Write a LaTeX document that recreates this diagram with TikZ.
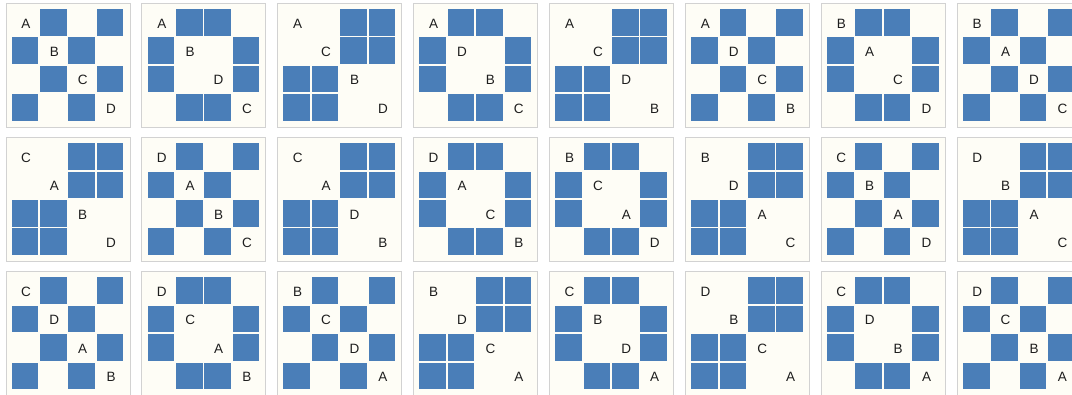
\documentclass[tikz,border=0pt]{standalone}
\usepackage{fontspec}
\setmainfont{Liberation Sans}
\definecolor{cellblue}{HTML}{4A7EB8}
\definecolor{panelbg}{HTML}{FEFDF6}
\definecolor{framegray}{HTML}{D2D2D2}
\definecolor{lettergray}{HTML}{1E1E1E}

% cell patterns (column/row)
\def\cellsX{1/0,3/0,0/1,2/1,1/2,3/2,0/3,2/3}
\def\cellsO{1/0,2/0,0/1,3/1,0/2,3/2,1/3,2/3}
\def\cellsZ{2/0,3/0,2/1,3/1,0/2,1/2,0/3,1/3}

\begin{document}
\begin{tikzpicture}[x=1pt,y=-1pt,
  letter/.style={text=lettergray, font=\fontsize{13.5}{15}\selectfont, inner sep=0pt}]

\useasboundingbox[fill=white] (0,0) rectangle (1072,395);

% Panels, row by row
\foreach \kind/\la/\lb/\lc/\ld [count=\n from 0] in {
  X/A/B/C/D, O/A/B/D/C, Z/A/C/B/D, O/A/D/B/C, Z/A/C/D/B, X/A/D/C/B, O/B/A/C/D, X/B/A/D/C,
  Z/C/A/B/D, X/D/A/B/C, Z/C/A/D/B, O/D/A/C/B, O/B/C/A/D, Z/B/D/A/C, X/C/B/A/D, Z/D/B/A/C,
  X/C/D/A/B, O/D/C/A/B, X/B/C/D/A, Z/B/D/C/A, O/C/B/D/A, Z/D/B/C/A, O/C/D/B/A, X/D/C/B/A} {
  \pgfmathtruncatemacro\col{mod(\n,8)}
  \pgfmathtruncatemacro\row{int(\n/8)}
  \begin{scope}[shift={(6+135.9*\col,3.5+134.2*\row)}]
    \fill[panelbg] (0,0) rectangle (124,124);
    \draw[framegray, line width=1pt] (0,0) rectangle (124,124);
    \edef\celllist{\csname cells\kind\endcsname}
    \foreach \cx/\cy in \celllist {
      \fill[cellblue] (5.6+28.4*\cx,5.6+28.4*\cy) rectangle ++(26.6,26.6);
    }
    \foreach \lt [count=\k from 0] in {\la,\lb,\lc,\ld} {
      \node[letter] (p\n-\k) at (19.9+28.4*\k,19.9+28.4*\k) {\lt};
    }
  \end{scope}
}
\end{tikzpicture}
\end{document}
